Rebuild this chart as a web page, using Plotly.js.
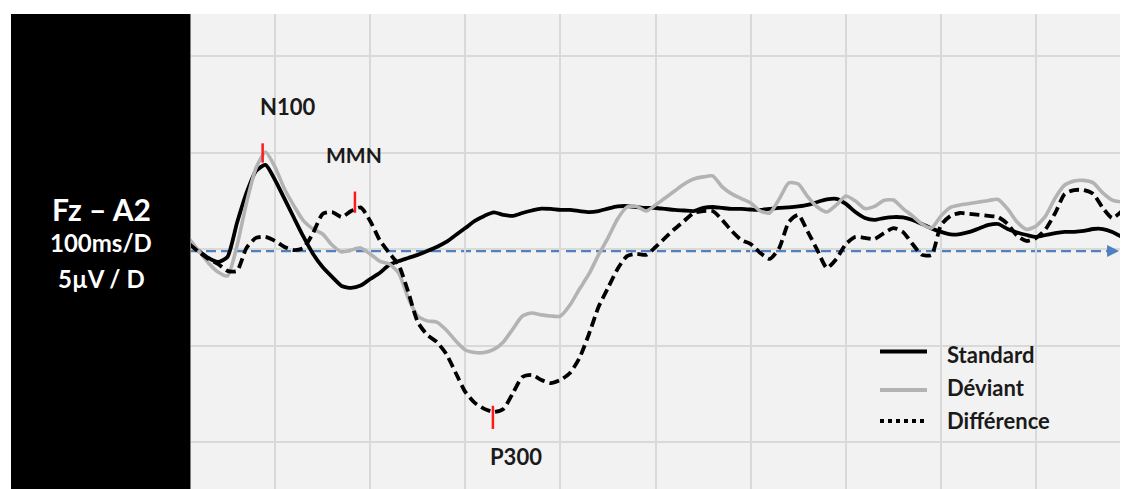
<!DOCTYPE html>
<html>
<head>
<meta charset="utf-8">
<script src="https://cdn.plot.ly/plotly-3.0.1.min.js"></script>
<style>html,body{margin:0;padding:0;background:#fff;}#chart{width:1122px;height:489px;}</style>
</head>
<body>
<div id="chart"></div>
<script>
// Time axis (ms), 10 ms steps
const timeMs = [10,20,30,40,50,60,70,80,90,100,110,120,130,140,150,160,170,180,190,200,
210,220,230,240,250,260,270,280,290,300,310,320,330,340,350,360,370,380,390,400,
410,420,430,440,450,460,470,480,490,500,510,520,530,540,550,560,570,580,590,600,
610,620,630,640,650,660,670,680,690,700,710,720,730,740,750,760,770,780,790,800,
810,820,830,840,850,860,870,880,890,900,910,920,930,940,950,960,970,980,990];

// Amplitudes in µV (negative plotted upward)
const standard = [-0.34,0.08,0.44,0.65,0.39,-1.37,-2.93,-4.07,-4.38,-3.60,-2.62,-1.63,-0.65,0.23,0.91,1.42,1.89,1.99,1.87,1.53,
1.22,0.80,0.60,0.44,0.28,0.08,-0.13,-0.39,-0.75,-1.11,-1.48,-1.74,-1.92,-1.79,-1.74,-1.89,-2.02,-2.12,-2.10,-2.05,
-2.05,-1.99,-1.94,-1.99,-2.12,-2.23,-2.25,-2.20,-2.15,-2.15,-2.10,-2.05,-2.02,-1.99,-2.15,-2.20,-2.15,-2.10,-2.10,-2.07,
-2.05,-2.10,-2.15,-2.18,-2.23,-2.31,-2.46,-2.59,-2.62,-2.36,-1.94,-1.63,-1.53,-1.63,-1.68,-1.66,-1.53,-1.32,-1.09,-0.91,
-0.78,-0.80,-0.91,-1.09,-1.27,-1.32,-1.06,-0.88,-0.75,-0.65,-0.75,-0.85,-0.91,-0.91,-0.96,-1.06,-1.06,-0.91,-0.65];

const deviant = [-0.54,0.08,0.70,1.17,1.37,-0.18,-2.41,-4.22,-5.05,-4.27,-3.13,-2.25,-1.48,-1.06,-0.80,-0.23,0.13,0.03,-0.08,0.23,
0.60,0.75,1.22,2.51,3.45,3.70,3.76,4.17,4.74,5.21,5.34,5.34,5.18,4.79,4.12,3.45,3.29,3.39,3.45,3.45,
2.88,2.05,1.27,0.28,-0.60,-1.58,-2.20,-2.23,-1.99,-2.31,-2.67,-3.03,-3.39,-3.65,-3.76,-3.81,-3.24,-2.88,-2.64,-2.41,
-1.99,-1.89,-2.62,-3.45,-3.39,-2.72,-2.20,-1.94,-2.31,-2.77,-2.51,-2.12,-2.23,-2.54,-2.56,-2.12,-1.74,-1.32,-1.11,-1.74,
-2.18,-2.31,-2.38,-2.46,-2.54,-2.59,-2.10,-1.42,-1.04,-1.22,-1.74,-2.67,-3.34,-3.55,-3.58,-3.45,-2.93,-2.56,-2.46];

const difference = [-0.28,0.13,0.49,0.75,1.11,1.11,-0.08,-0.60,-0.65,-0.44,-0.13,0.03,-0.08,-0.85,-1.84,-1.94,-1.68,-1.99,-2.18,-1.48,
-0.49,0.18,0.80,2.20,3.76,4.43,4.79,5.41,6.40,7.38,7.95,8.26,8.42,8.26,7.44,6.61,6.50,6.76,6.92,6.76,
6.40,5.62,4.38,2.98,1.99,1.01,0.34,0.23,0.28,-0.13,-0.60,-1.06,-1.48,-1.89,-1.99,-1.99,-1.53,-0.96,-0.49,-0.28,
0.18,0.49,-0.08,-1.42,-1.79,-0.91,0.03,0.96,0.49,-0.28,-0.65,-0.60,-0.54,-0.85,-1.11,-0.91,-0.28,0.28,0.28,-1.27,
-1.74,-1.89,-1.84,-1.79,-1.74,-1.68,-1.32,-0.70,-0.44,-0.60,-1.06,-1.89,-2.88,-3.08,-3.08,-2.88,-2.15,-1.63,-1.99];

// ERP components: latency (ms), marker extent (µV), label position
const componentNames = ['N100','MMN','P300'];
const componentLatency = [87,184,329];
const componentTickFrom = [-5.5,-3.0,8.1];
const componentTickTo = [-4.5,-1.9,9.3];
const componentLabelTime = [113,183,353];
const componentLabelAmp = [-7.4,-4.9,10.75];

const seriesNames = ['Standard','Déviant','Différence'];
const panelLines = ['Fz – A2','100ms/D','5µV / D'];

const FONT = 'Lato, "Open Sans", sans-serif';
const X0 = 11.7, X1 = 988.1, YB = 12.41, YT = -12.2;

const tickX = [], tickY = [];
componentLatency.forEach((t,i)=>{ tickX.push(t,t,null); tickY.push(componentTickFrom[i],componentTickTo[i],null); });

const traces = [
  {x: timeMs, y: standard, type:'scatter', mode:'lines', name: seriesNames[0],
   line:{color:'#000000', width:3.8, shape:'spline', smoothing:0.6}, hoverinfo:'skip'},
  {x: timeMs, y: deviant, type:'scatter', mode:'lines', name: seriesNames[1],
   line:{color:'#b3b3b3', width:3.6, shape:'spline', smoothing:0.6}, hoverinfo:'skip'},
  {x: timeMs, y: difference, type:'scatter', mode:'lines', name: seriesNames[2],
   line:{color:'#000000', width:3.8, dash:'10px,5px', shape:'spline', smoothing:0.6}, hoverinfo:'skip'},
  {x: tickX, y: tickY, type:'scatter', mode:'lines', line:{color:'#ff1a1a', width:2.5}, hoverinfo:'skip'}
];

const pxY = y => (489 - y) / 475;         // page pixel -> paper y
const pxX = x => (x - 191) / 929;         // page pixel -> paper x

const shapes = [
  {type:'rect', xref:'paper', yref:'paper', x0:pxX(11), x1:pxX(190.5), y0:0, y1:1,
   fillcolor:'#000000', line:{width:0}, layer:'above'},
  {type:'line', xref:'paper', yref:'y', x0:0, x1:0.995, y0:0.08, y1:0.08,
   line:{color:'#4f81bd', width:2.5, dash:'10px,5px'}, layer:'below'}
];
const legendY = [351.5, 390, 421];
const legendStyle = [{color:'#000', width:4}, {color:'#b3b3b3', width:4}, {color:'#000', width:4, dash:'4px,4px'}];
const annotations = [];
seriesNames.forEach((n,i)=>{
  shapes.push({type:'line', xref:'paper', yref:'paper', x0:pxX(880), x1:pxX(927), y0:pxY(legendY[i]), y1:pxY(legendY[i]), line: legendStyle[i]});
});
const legendTextY = [354, 387, 420];
seriesNames.forEach((n,i)=>{
  annotations.push({xref:'paper', yref:'paper', x:pxX(945), y:pxY(legendTextY[i]), text:n, showarrow:false,
    xanchor:'left', yanchor:'middle', font:{family:FONT, size:22, weight:700, color:'#1a1a1a'}});
});
const componentSize = [22, 21, 22];
componentNames.forEach((n,i)=>{
  annotations.push({x: componentLabelTime[i], y: componentLabelAmp[i], text:n, showarrow:false,
    xanchor:'center', yanchor:'middle', font:{family:FONT, size:componentSize[i], weight:700, color:'#1a1a1a'}});
});
const panelY = [209, 243, 278];
const panelSize = [30, 24, 24];
panelLines.forEach((s,i)=>{
  annotations.push({xref:'paper', yref:'paper', x:pxX(101), y:pxY(panelY[i]), text:s, showarrow:false,
    xanchor:'center', yanchor:'middle', font:{family:FONT, size:panelSize[i], weight:700, color:'#ffffff'}});
});
// arrow head of the baseline
annotations.push({x: X1 - 1, y: 0.08, ax: -14, ay: 0, showarrow:true, arrowhead:2, arrowsize:1.2, arrowwidth:2,
  arrowcolor:'#4f81bd', text:''});

const layout = {
  width:1122, height:489,
  margin:{l:191, r:2, t:14, b:0, pad:0},
  paper_bgcolor:'#ffffff', plot_bgcolor:'#f2f2f2',
  showlegend:false,
  xaxis:{range:[X0,X1], tick0:0, dtick:100, showgrid:true, gridcolor:'#d9d9d9', gridwidth:2,
         zeroline:false, showticklabels:false, ticks:'', showline:false, fixedrange:true},
  yaxis:{range:[YB,YT], tick0:0, dtick:5, showgrid:true, gridcolor:'#d9d9d9', gridwidth:2,
         zeroline:false, showticklabels:false, ticks:'', showline:false, fixedrange:true},
  shapes: shapes, annotations: annotations
};
Plotly.newPlot('chart', traces, layout, {displayModeBar:false, staticPlot:true});
</script>
</body>
</html>
